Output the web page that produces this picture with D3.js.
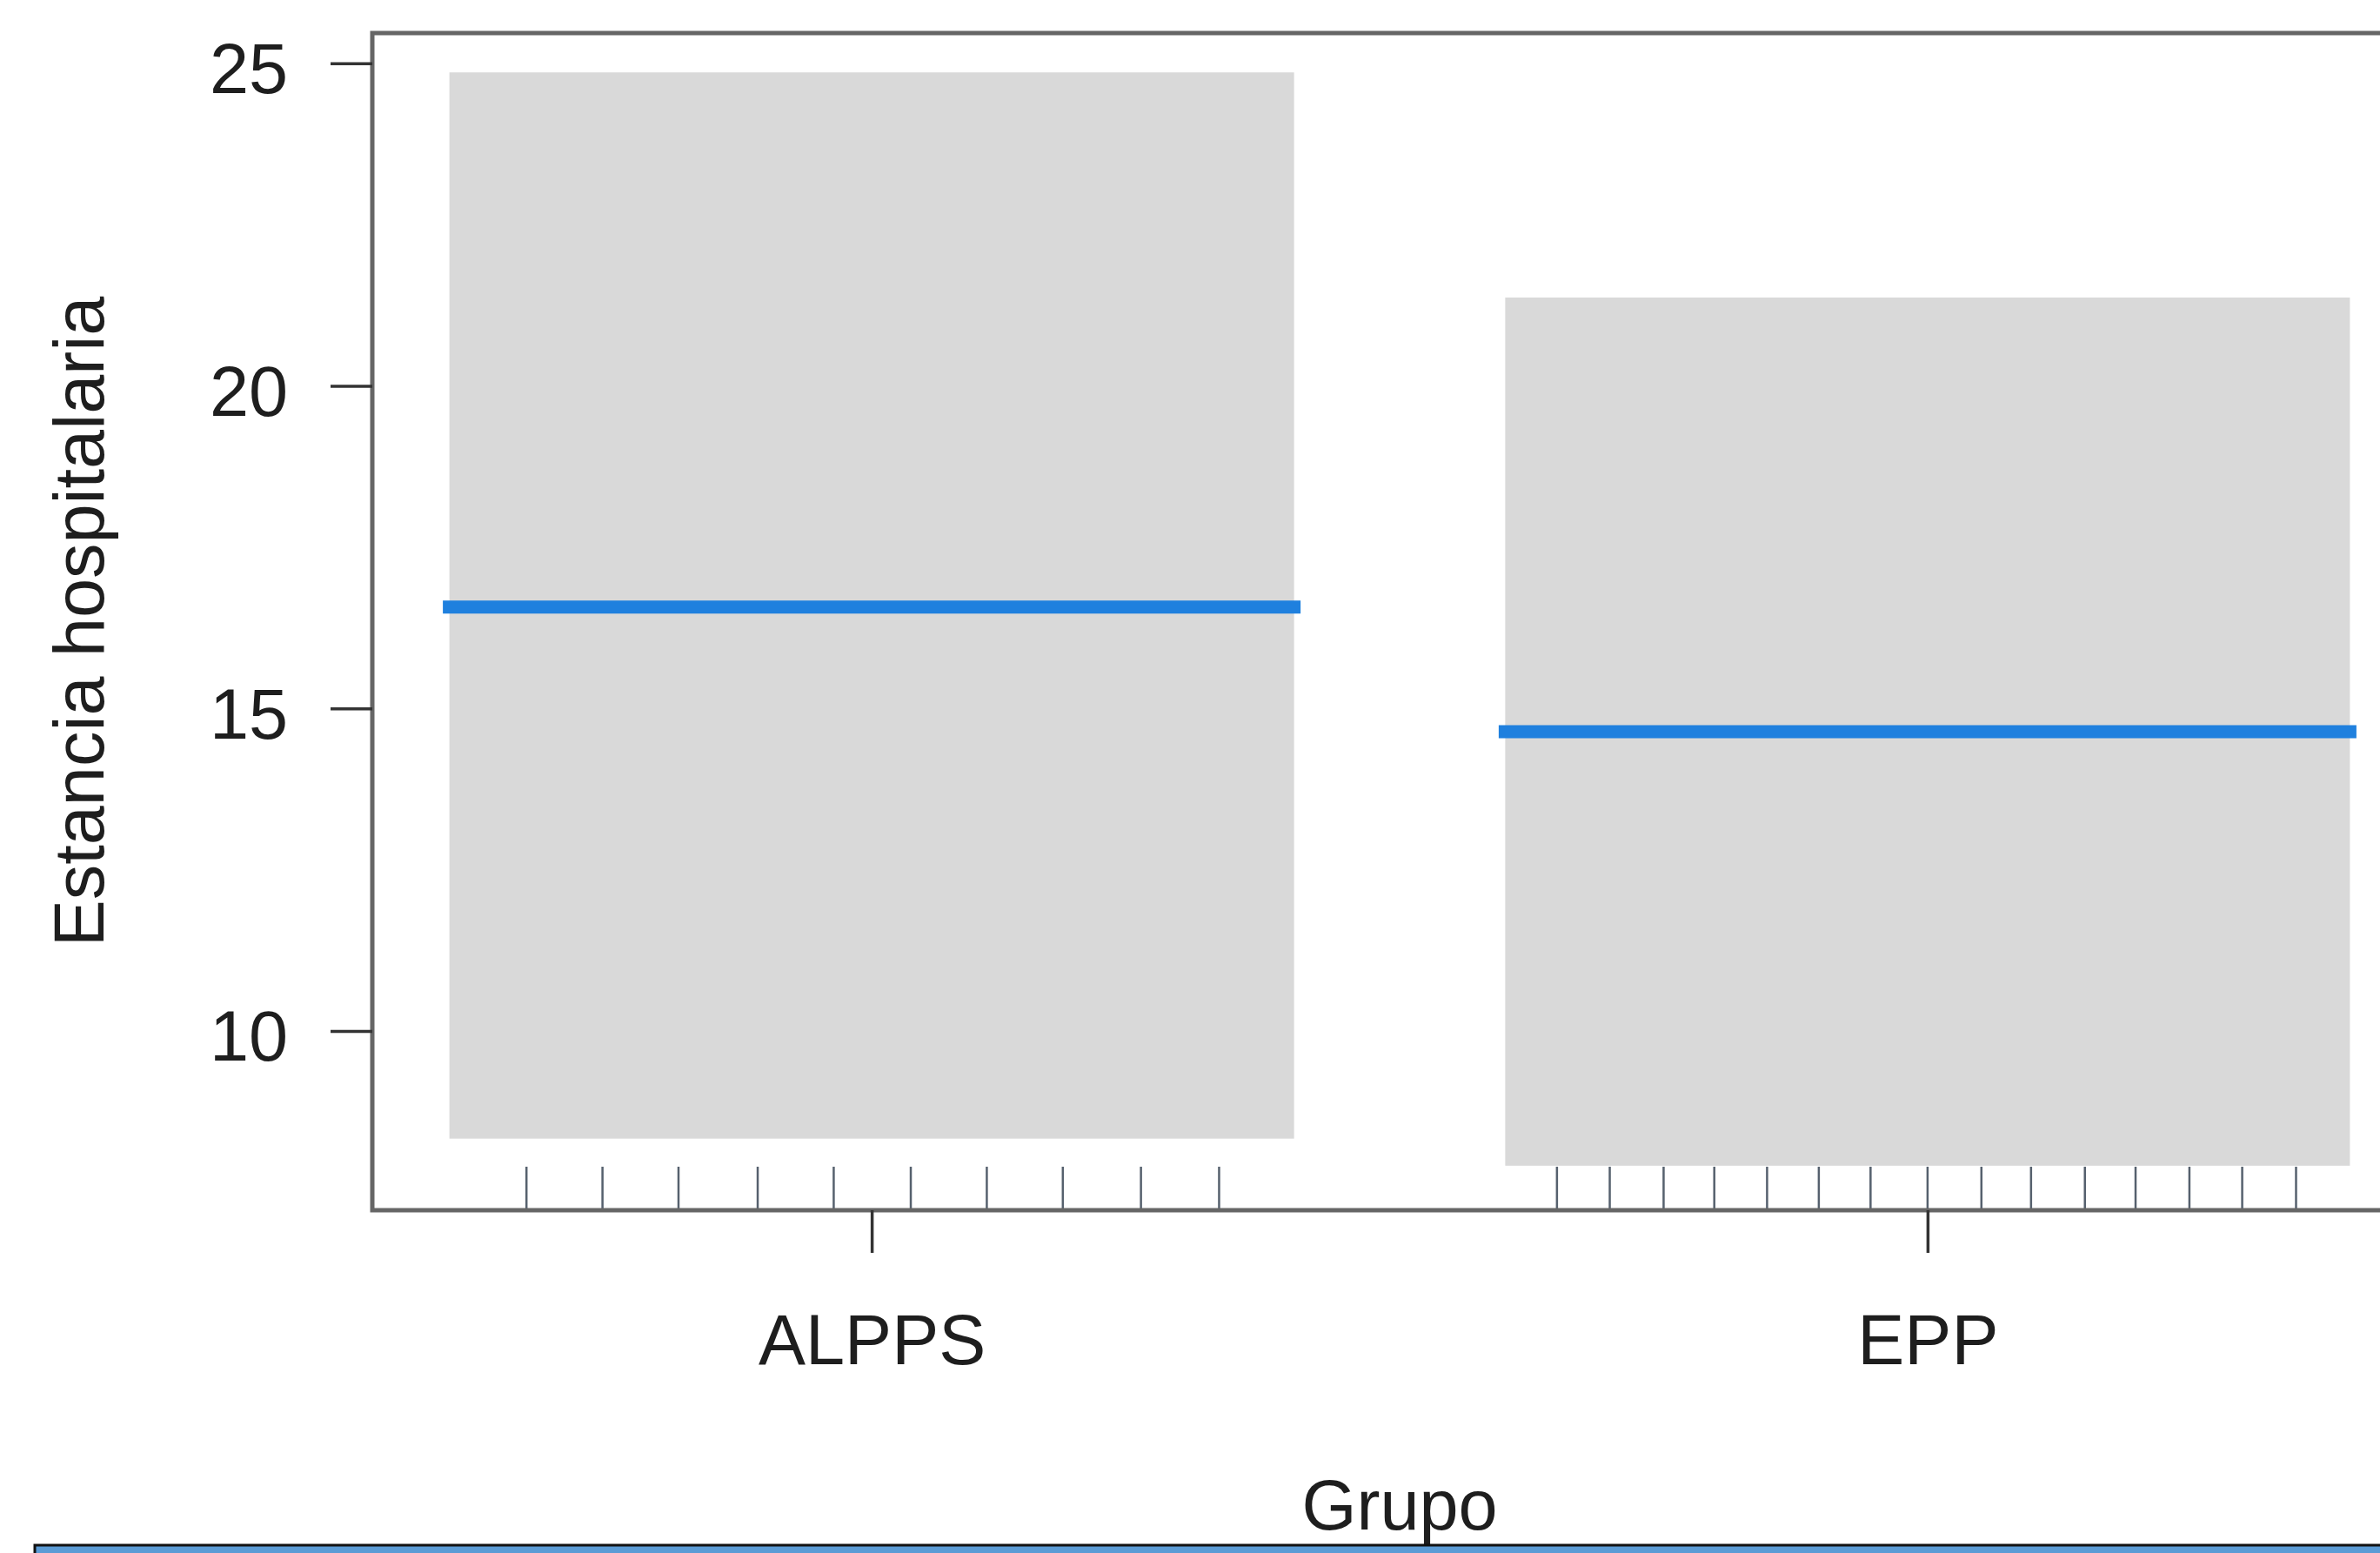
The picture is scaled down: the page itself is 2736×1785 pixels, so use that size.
<!DOCTYPE html>
<html lang="es">
<head>
<meta charset="utf-8">
<title>Estancia hospitalaria por grupo</title>
<script src="https://cdn.jsdelivr.net/npm/d3@7"></script>
<style>
  html, body { margin: 0; padding: 0; background: #ffffff; overflow: hidden; }
  svg { display: block; }
  text { font-family: "Liberation Sans", Arial, "DejaVu Sans", sans-serif; fill: #1e1e1e; }
</style>
</head>
<body>
<svg id="chart" width="2736" height="1785"></svg>
<script>
// Effect of group on hospital stay: fitted value with confidence band
const categories = ["ALPPS", "EPP"];
const fitValues  = [16.57, 14.64];
const lowerCI    = [8.33, 7.91];
const upperCI    = [24.86, 21.37];
const yTicks     = [10, 15, 20, 25];

// rug marks, offsets from each group centre in units of the group step
const rugALPPS = [-0.327, -0.255, -0.183, -0.108, -0.036, 0.037, 0.109, 0.181, 0.255, 0.329];
const rugEPP   = [-0.351, -0.301, -0.250, -0.202, -0.152, -0.103, -0.054, 0.0, 0.051, 0.098,
                  0.149, 0.197, 0.248, 0.298, 0.349];
const rugs = [rugALPPS, rugEPP];

const yTitle = "Estancia hospitalaria";
const xTitle = "Grupo";

const svg = d3.select("#chart");

const panel = { left: 428, right: 2790, top: 38, bottom: 1391 };
const fontSize = 81;

const x = d3.scalePoint()
  .domain(categories)
  .range([panel.left, panel.right])
  .padding(0.473);

const y = d3.scaleLinear()
  .domain([7.22, 25.47])
  .range([panel.bottom, panel.top]);

const step = x.step();
const halfBand = 0.4 * step;

// confidence bands
svg.append("g")
  .selectAll("rect")
  .data(categories)
  .join("rect")
  .attr("x", d => x(d) - halfBand)
  .attr("width", 2 * halfBand)
  .attr("y", (d, i) => y(upperCI[i]))
  .attr("height", (d, i) => y(lowerCI[i]) - y(upperCI[i]))
  .attr("fill", "#d9d9d9");

// rug ticks along the bottom of the panel
const rugG = svg.append("g");
categories.forEach((c, i) => {
  rugG.selectAll(null)
    .data(rugs[i])
    .join("line")
    .attr("x1", d => x(c) + d * step)
    .attr("x2", d => x(c) + d * step)
    .attr("y1", panel.bottom)
    .attr("y2", panel.bottom - 50)
    .attr("stroke", "#56616e")
    .attr("stroke-width", 2.5);
});

// fitted values
svg.append("g")
  .selectAll("line")
  .data(categories)
  .join("line")
  .attr("x1", d => x(d) - halfBand)
  .attr("x2", d => x(d) + halfBand)
  .attr("y1", (d, i) => y(fitValues[i]))
  .attr("y2", (d, i) => y(fitValues[i]))
  .attr("stroke", "#1f80de")
  .attr("stroke-width", 15)
  .attr("stroke-linecap", "square");

// panel frame
svg.append("rect")
  .attr("x", panel.left)
  .attr("y", panel.top)
  .attr("width", panel.right - panel.left)
  .attr("height", panel.bottom - panel.top)
  .attr("fill", "none")
  .attr("stroke", "#666")
  .attr("stroke-width", 5);

// y axis
const yAxis = svg.append("g")
  .attr("transform", `translate(${panel.left},0)`)
  .call(d3.axisLeft(y).tickValues(yTicks).tickSize(48).tickPadding(49));
yAxis.select(".domain").remove();
yAxis.selectAll(".tick line").attr("stroke", "#333").attr("stroke-width", 3.5);
yAxis.selectAll(".tick text")
  .attr("font-size", fontSize)
  .attr("font-family", "Liberation Sans, Arial, sans-serif")
  .attr("fill", "#1e1e1e")
  .attr("dy", "0.42em");

// x axis
const xAxis = svg.append("g")
  .attr("transform", `translate(0,${panel.bottom})`)
  .call(d3.axisBottom(x).tickSize(49).tickPadding(70));
xAxis.select(".domain").remove();
xAxis.selectAll(".tick line").attr("stroke", "#333").attr("stroke-width", 3.5);
xAxis.selectAll(".tick text")
  .attr("font-size", fontSize)
  .attr("font-family", "Liberation Sans, Arial, sans-serif")
  .attr("fill", "#1e1e1e");

// axis titles
svg.append("text")
  .attr("transform", `translate(119,${(panel.top + panel.bottom) / 2}) rotate(-90)`)
  .attr("text-anchor", "middle")
  .attr("font-size", fontSize)
  .text(yTitle);

svg.append("text")
  .attr("x", (panel.left + panel.right) / 2)
  .attr("y", 1758)
  .attr("text-anchor", "middle")
  .attr("font-size", fontSize)
  .text(xTitle);

// blue strip along the bottom edge
svg.append("rect")
  .attr("x", 40)
  .attr("y", 1776)
  .attr("width", 2760)
  .attr("height", 40)
  .attr("fill", "#5b9bd5")
  .attr("stroke", "#111")
  .attr("stroke-width", 3);
</script>
</body>
</html>
